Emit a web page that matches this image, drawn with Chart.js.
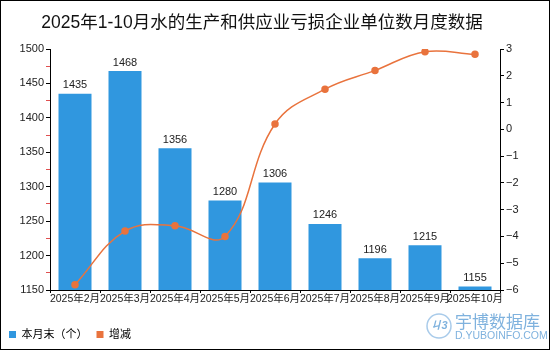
<!DOCTYPE html>
<html>
<head>
<meta charset="utf-8">
<script src="https://cdn.jsdelivr.net/npm/chart.js@4"></script>
<style>
  html, body { margin: 0; padding: 0; background: #fff; }
  #wrap { width: 550px; height: 350px; position: relative; }
</style>
</head>
<body>
<div id="wrap"><canvas id="chart" width="550" height="350"></canvas></div>
<script>
// ── Data ──────────────────────────────────────────────────────────────
const months   = ['2025年2月', '2025年3月', '2025年4月', '2025年5月', '2025年6月',
                  '2025年7月', '2025年8月', '2025年9月', '2025年10月'];
const counts   = [1435, 1468, 1356, 1280, 1306, 1246, 1196, 1215, 1155];
const changes  = [-5.8, -3.8, -3.6, -4.0, 0.2, 1.5, 2.2, 2.9, 2.8];

const TITLE = '2025年1-10月水的生产和供应业亏损企业单位数月度数据';
const FONT = '"Liberation Sans", Arial, "Noto Sans CJK SC", sans-serif';
const BAR_COLOR  = '#3097DF';
const LINE_COLOR = '#E9733D';

// ── Plugins ───────────────────────────────────────────────────────────

// value labels above bars (bar dataset is index 1)
const barLabels = {
  id: 'barLabels',
  afterDatasetsDraw(chart) {
    const { ctx } = chart;
    const meta = chart.getDatasetMeta(1);
    ctx.save();
    ctx.font = '11px ' + FONT;
    ctx.fillStyle = '#222';
    ctx.textAlign = 'center';
    ctx.textBaseline = 'bottom';
    meta.data.forEach((bar, i) => {
      ctx.fillText(counts[i], bar.x, bar.y - 3);
    });
    ctx.restore();
  }
};

// frame, title (slightly left of centre, like the original) + watermark
const decorations = {
  id: 'decorations',
  afterDraw(chart) {
    const { ctx } = chart;
    ctx.save();
    ctx.strokeStyle = '#000';
    ctx.lineWidth = 1;
    ctx.strokeRect(0.5, 0.5, 549, 349);

    ctx.fillStyle = '#111';
    ctx.font = '17.5px ' + FONT;
    ctx.textAlign = 'center';
    ctx.textBaseline = 'middle';
    ctx.fillText(TITLE, 262, 23);

    // watermark logo
    ctx.strokeStyle = '#A9CBEA';
    ctx.lineWidth = 1.5;
    ctx.beginPath();
    ctx.arc(439, 326, 12, 0, Math.PI * 2);
    ctx.stroke();
    ctx.fillStyle = '#7FB2DE';
    ctx.font = 'italic bold 11px ' + FONT;
    ctx.fillText('ㄐ3', 439, 326);

    ctx.textAlign = 'left';
    ctx.font = '17px "Noto Sans CJK SC", sans-serif';
    ctx.textBaseline = 'alphabetic';
    ctx.fillText('宇博数据库', 455, 328);
    ctx.font = '10.5px ' + FONT;
    ctx.fillText('D.YUBOINFO.COM', 455, 339);
    ctx.restore();
  }
};

// ── Chart ─────────────────────────────────────────────────────────────
new Chart(document.getElementById('chart'), {
  type: 'bar',
  data: {
    labels: months,
    datasets: [
      {
        type: 'line',
        label: '增减',
        data: changes,
        yAxisID: 'y1',
        borderColor: LINE_COLOR,
        backgroundColor: LINE_COLOR,
        borderWidth: 1.5,
        pointRadius: 3,
        pointHoverRadius: 3,
        tension: 0.4,
        order: 0,
      },
      {
        type: 'bar',
        label: '本月末（个）',
        data: counts,
        yAxisID: 'y',
        backgroundColor: BAR_COLOR,
        categoryPercentage: 1,
        barPercentage: 0.66,
        order: 1,
      },
    ],
  },
  options: {
    responsive: false,
    animation: false,
    layout: { padding: { left: 0, right: 0, top: 49, bottom: 0 } },
    plugins: {
      title: { display: false },
      legend: {
        position: 'bottom',
        align: 'start',
        reverse: true,
        labels: {
          color: '#222',
          font: { family: FONT, size: 11 },
          boxWidth: 7,
          boxHeight: 7,
          padding: 9,
          useBorderRadius: false,
          generateLabels(chart) {
            return chart.data.datasets.map((ds, i) => ({
              text: ds.label,
              fillStyle: i === 0 ? LINE_COLOR : BAR_COLOR,
              strokeStyle: i === 0 ? LINE_COLOR : BAR_COLOR,
              lineWidth: 0,
              datasetIndex: i,
            }));
          },
        },
      },
      tooltip: { enabled: false },
    },
    scales: {
      x: {
        grid: {
          display: true,
          drawOnChartArea: false,
          offset: true,
          color: '#000',
          tickLength: 3,
        },
        border: { color: '#000' },
        ticks: {
          color: '#222',
          font: { family: FONT, size: 10.5 },
          maxRotation: 0,
          autoSkip: false,
          padding: 0,
        },
        afterFit(axis) { axis.height = 30; },
      },
      y: {
        position: 'left',
        min: 1150,
        max: 1500,
        ticks: {
          stepSize: 25,
          color: '#222',
          font: { family: FONT, size: 11 },
          padding: 2,
          callback: (v) => (v % 50 === 0 ? v : ''),
        },
        grid: {
          drawOnChartArea: false,
          tickLength: 4,
          tickColor: (c) => (c.tick && c.tick.value % 50 === 0 ? '#000' : '#E05050'),
        },
        border: { color: '#000' },
        afterFit(axis) { axis.width = 50; },
      },
      y1: {
        position: 'right',
        min: -6,
        max: 3,
        ticks: {
          stepSize: 0.5,
          color: '#222',
          font: { family: FONT, size: 11 },
          padding: 2,
          callback: (v) => (Number.isInteger(v) ? (v < 0 ? '\u2212' + Math.abs(v) : v) : ''),
        },
        grid: {
          drawOnChartArea: false,
          tickLength: 4,
          tickColor: (c) => (c.tick && Number.isInteger(c.tick.value) ? '#000' : '#E05050'),
        },
        border: { color: '#000' },
        afterFit(axis) { axis.width = 50; },
      },
    },
  },
  plugins: [barLabels, decorations],
});
</script>
</body>
</html>
